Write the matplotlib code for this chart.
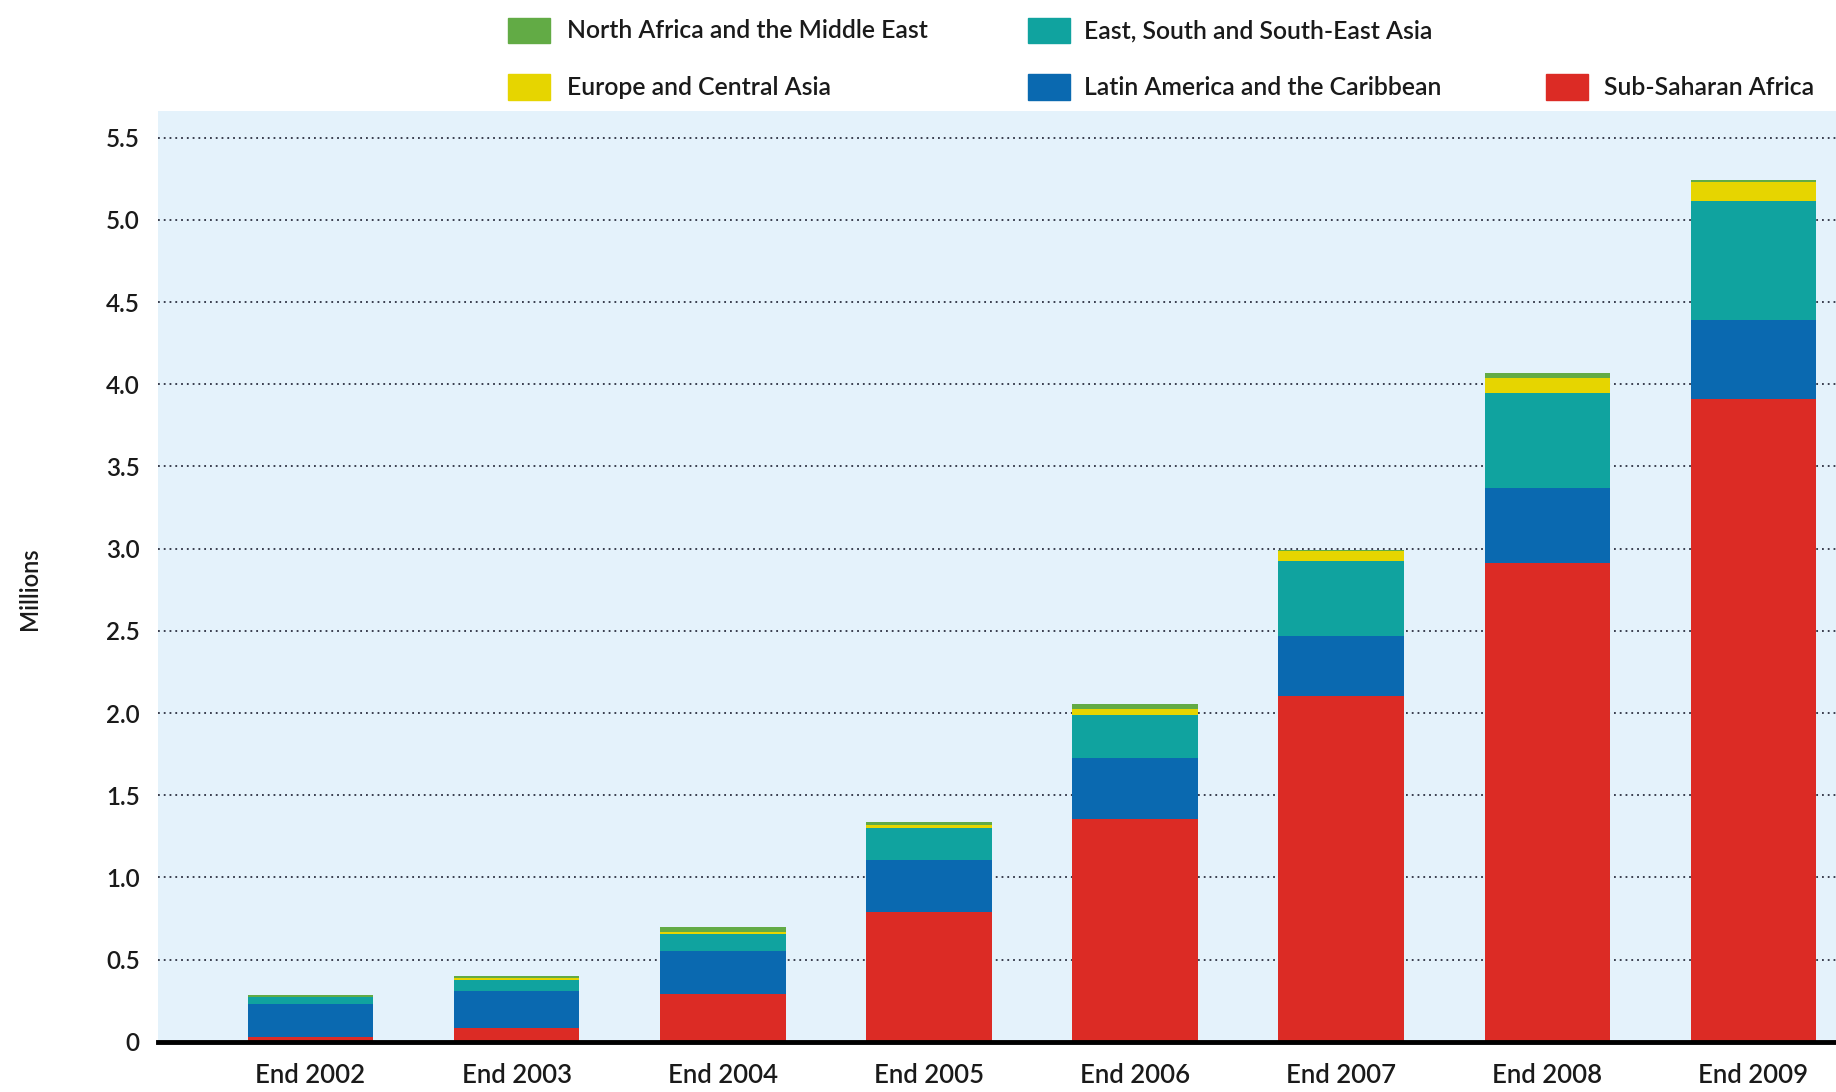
import numpy as np
import matplotlib.pyplot as plt
from matplotlib.patches import Rectangle

plt.rcParams["font.family"] = ["Lato", "DejaVu Sans"]

# ==========================================
# DATA (millions of people)
# ==========================================
years = ["End 2002", "End 2003", "End 2004", "End 2005",
         "End 2006", "End 2007", "End 2008", "End 2009"]

sub_saharan = [0.03, 0.085, 0.29, 0.79, 1.358, 2.105, 2.915, 3.91]
latin_america = [0.20, 0.225, 0.265, 0.315, 0.366, 0.365, 0.455, 0.483]
east_asia = [0.04, 0.065, 0.10, 0.196, 0.264, 0.453, 0.578, 0.722]
europe_ca = [0.005, 0.012, 0.015, 0.02, 0.037, 0.06, 0.09, 0.116]
north_africa_me = [0.01, 0.013, 0.03, 0.017, 0.028, 0.01, 0.03, 0.014]

series = [
    ("Sub-Saharan Africa", sub_saharan, "#dc2b25"),
    ("Latin America and the Caribbean", latin_america, "#0a69b0"),
    ("East, South and South-East Asia", east_asia, "#10a39f"),
    ("Europe and Central Asia", europe_ca, "#e6d500"),
    ("North Africa and the Middle East", north_africa_me, "#62ab45"),
]

# ==========================================
# PLOT
# ==========================================
fig = plt.figure(figsize=(18.36, 10.92), dpi=100)
ax = fig.add_axes([0.086, 0.046, 0.914, 0.852])
ax.set_facecolor("#e4f2fb")

x = np.arange(len(years))
bottom = np.zeros(len(years))
for name, vals, color in series:
    ax.bar(x, vals, width=0.61, bottom=bottom, color=color, zorder=3, linewidth=0)
    bottom += np.array(vals)

yticks = np.arange(0, 5.51, 0.5)
ax.set_yticks(yticks)
ax.set_yticklabels(["0"] + [f"{v:.1f}" for v in yticks[1:]])
ax.set_ylim(0, 5.66)
ax.set_xlim(-0.74, 7.40)
ax.set_xticks(x)
ax.set_xticklabels(years)

for v in yticks[1:]:
    ax.axhline(v, color="#2b3040", linestyle=(0, (1, 2.2)), linewidth=1.3, zorder=1)

for side in ["top", "right", "left"]:
    ax.spines[side].set_visible(False)
ax.spines["bottom"].set_linewidth(3.5)
ax.spines["bottom"].set_color("black")
ax.spines["bottom"].set_zorder(4)

ax.tick_params(axis="x", length=0, labelsize=18.5, colors="#1a1a1a", pad=15)
ax.tick_params(axis="y", length=0, labelsize=17.5, colors="#1a1a1a", pad=13)
for lbl in ax.get_xticklabels():
    lbl.set_fontweight("semibold")
for lbl in ax.get_yticklabels():
    lbl.set_fontweight("semibold")

fig.text(0.016, 0.461, "Millions", rotation=90, ha="center", va="center",
         fontsize=17, color="#1a1a1a", fontweight="semibold")

# legend laid out as in the original: 2 rows, 3 columns
legend_order = [
    ("North Africa and the Middle East", 0, 0),
    ("East, South and South-East Asia", 1, 0),
    ("Europe and Central Asia", 0, 1),
    ("Latin America and the Caribbean", 1, 1),
    ("Sub-Saharan Africa", 2, 1),
]
colors = {name: c for name, _, c in series}
patch_x = [0.2768, 0.560, 0.842]
text_x = [0.3087, 0.5906, 0.8737]
row_y = [0.972, 0.920]
for name, col, row in legend_order:
    fig.add_artist(Rectangle((patch_x[col], row_y[row] - 0.0118), 0.023, 0.0236,
                             transform=fig.transFigure, color=colors[name]))
    fig.text(text_x[col], row_y[row], name, ha="left", va="center",
             fontsize=17.8, color="#1a1a1a", fontweight="semibold")

fig.savefig("out.png", dpi=100, facecolor="white")
